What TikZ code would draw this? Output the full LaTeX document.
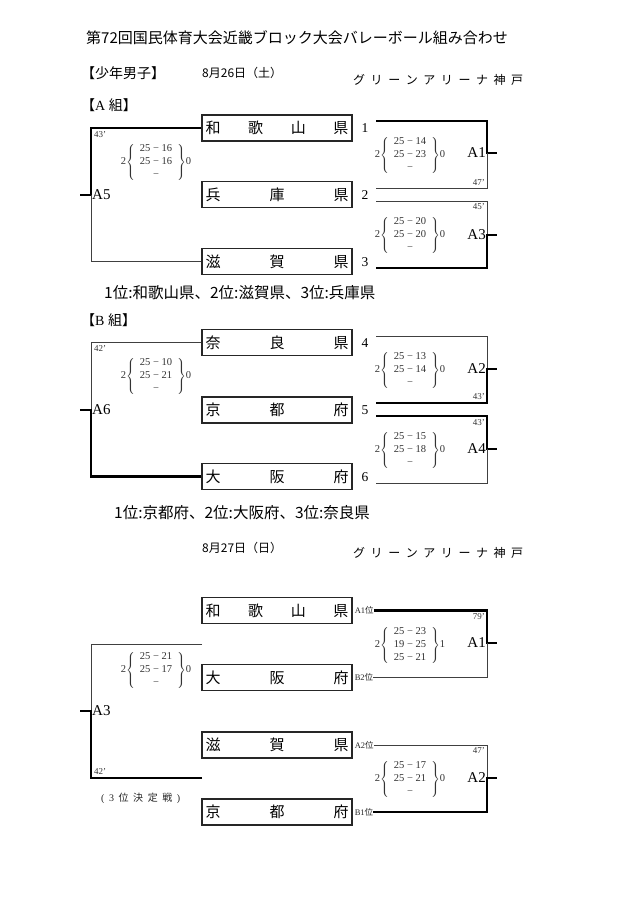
\documentclass[tikz,border=0pt]{standalone}
\usepackage{fontspec}
\setmainfont{Liberation Serif}
\newfontfamily\jp{Noto Sans CJK JP}
\newcommand\boxfour[4]{\makebox[143pt]{#1\hfill #2\hfill #3\hfill #4}}
\newcommand\boxthree[3]{\makebox[143pt]{#1\hfill #2\hfill #3}}
\newcommand\scoreblk[5]{#4$\left\{\begin{tabular}{@{\hspace{5pt}}c@{\hspace{5pt}}}#1\\#2\\#3\end{tabular}\right\}$#5}
\newcommand\arena{\makebox[170pt]{グ\hfill リ\hfill ー\hfill ン\hfill ア\hfill リ\hfill ー\hfill ナ\hfill 神\hfill 戸}}
\begin{document}
\begin{tikzpicture}[x=1pt,y=-1pt,
  tbox/.style={draw=black!85,line width=1.1pt,minimum width=150pt,minimum height=26pt,inner sep=0pt,font=\jp\fontsize{15}{15}\selectfont},
  thinln/.style={draw=black!75,line width=0.9pt},
  thickln/.style={draw=black,line width=2.6pt},
  lbl/.style={inner sep=0pt,font=\fontsize{15}{15}\selectfont},
  num/.style={inner sep=0pt,font=\fontsize{13.5}{13.5}\selectfont},
  mins/.style={inner sep=0pt,text=black!80,font=\fontsize{9}{9}\selectfont},
  score/.style={inner sep=0pt,text=black!80,font=\fontsize{10.5}{13}\selectfont},
  rank/.style={inner sep=0pt,anchor=west,text=black!85,font=\fontsize{8.5}{9}\selectfont},
  jt/.style={inner sep=0pt,anchor=west,font=\jp\fontsize{15}{15}\selectfont},
  res/.style={inner sep=0pt,anchor=west,font=\jp\fontsize{15.5}{15.5}\selectfont},
]
\useasboundingbox (0,0) rectangle (640,906);
\fill[white] (0,0) rectangle (640,906);

% headers
\node[jt] (title) at (86,38) {第72回国民体育大会近畿ブロック大会バレーボール組み合わせ};
\node[jt,font=\jp\fontsize{14}{14}\selectfont] (cat) at (81,73) {【少年男子】};
\node[jt,font=\jp\fontsize{12}{12}\selectfont] (date1) at (202,73) {8月26日（土）};
\node[jt,font=\jp\fontsize{12}{12}\selectfont] (venue1) at (353,80) {\arena};
\node[jt,font=\fontsize{14}{14}\selectfont] (grpA) at (81,105) {{\jp 【}A\ {\jp 組】}};

% ---------- A group ----------
\node[tbox] (wakA) at (277,128) {\boxfour{和}{歌}{山}{県}};
\node[tbox] (hyoA) at (277,194.5) {\boxthree{兵}{庫}{県}};
\node[tbox] (shiA) at (277,261.5) {\boxthree{滋}{賀}{県}};
\node[num] (n1) at (365,128) {1};
\node[num] (n2) at (365,195) {2};
\node[num] (n3) at (365,262) {3};

\coordinate (a5) at (91,195);
\draw[thickln] (wakA.west) -| (a5) -- ++(-11,0);
\draw[thinln] (a5) |- (shiA.west);
\node[lbl,anchor=west] (A5) at (92,195) {A5};
\node[mins,anchor=north west] (mA5) at (94,131) {43’};
\node[score] (sA5) at (156,162) {\scoreblk{25 − 16}{25 − 16}{−}{2}{0}};

\coordinate (r1t) at (376,121);
\coordinate (r1c) at (487,153);
\coordinate (r1b) at (376,188);
\draw[thickln] (r1t) -| (r1c) -- ++(10,0);
\draw[thinln] (r1c) |- (r1b);
\node[lbl,anchor=east] (A1) at (486,153) {A1};
\node[mins,anchor=south east] (mA1) at (485,186) {47’};
\node[score] (sA1) at (410,155) {\scoreblk{25 − 14}{25 − 23}{−}{2}{0}};

\coordinate (r3t) at (376,201);
\coordinate (r3c) at (487,235);
\coordinate (r3b) at (376,268);
\draw[thinln] (r3t) -| (r3c);
\draw[thickln] (r3b) -| (r3c) -- ++(10,0);
\node[lbl,anchor=east] (A3) at (486,235) {A3};
\node[mins,anchor=north east] (mA3) at (485,203) {45’};
\node[score] (sA3) at (410,235) {\scoreblk{25 − 20}{25 − 20}{−}{2}{0}};

\node[res] (resA) at (104,293) {1位:和歌山県、2位:滋賀県、3位:兵庫県};

% ---------- B group ----------
\node[jt,font=\fontsize{14}{14}\selectfont] (grpB) at (81,320) {{\jp 【}B\ {\jp 組】}};
\node[tbox] (narB) at (277,342.5) {\boxthree{奈}{良}{県}};
\node[tbox] (kyoB) at (277,410) {\boxthree{京}{都}{府}};
\node[tbox] (osaB) at (277,476.5) {\boxthree{大}{阪}{府}};
\node[num] (n4) at (365,343) {4};
\node[num] (n5) at (365,410) {5};
\node[num] (n6) at (365,477) {6};

\coordinate (a6) at (91,410);
\draw[thinln] (narB.west) -| (a6);
\draw[thickln] (osaB.west) -| (a6) -- ++(-11,0);
\node[lbl,anchor=west] (A6) at (92,410) {A6};
\node[mins,anchor=north west] (mA6) at (94,345) {42’};
\node[score] (sA6) at (156,376) {\scoreblk{25 − 10}{25 − 21}{−}{2}{0}};

\coordinate (r2t) at (376,336);
\coordinate (r2c) at (487,369);
\coordinate (r2b) at (376,403);
\draw[thinln] (r2t) -| (r2c);
\draw[thickln] (r2b) -| (r2c) -- ++(10,0);
\node[lbl,anchor=east] (A2) at (486,369) {A2};
\node[mins,anchor=south east] (mA2) at (485,400) {43’};
\node[score] (sA2) at (410,370) {\scoreblk{25 − 13}{25 − 14}{−}{2}{0}};

\coordinate (r4t) at (376,416);
\coordinate (r4c) at (487,449);
\coordinate (r4b) at (376,483);
\draw[thickln] (r4t) -| (r4c) -- ++(10,0);
\draw[thinln] (r4c) |- (r4b);
\node[lbl,anchor=east] (A4) at (486,449) {A4};
\node[mins,anchor=north east] (mA4) at (485,419) {43’};
\node[score] (sA4) at (410,450) {\scoreblk{25 − 15}{25 − 18}{−}{2}{0}};

\node[res] (resB) at (114,513) {1位:京都府、2位:大阪府、3位:奈良県};

% ---------- Final day ----------
\node[jt,font=\jp\fontsize{12}{12}\selectfont] (date2) at (202,548) {8月27日（日）};
\node[jt,font=\jp\fontsize{12}{12}\selectfont] (venue2) at (353,553) {\arena};

\node[tbox] (wakF) at (277,610.5) {\boxfour{和}{歌}{山}{県}};
\node[tbox] (osaF) at (277,677.5) {\boxthree{大}{阪}{府}};
\node[tbox] (shiF) at (277,745) {\boxthree{滋}{賀}{県}};
\node[tbox] (kyoF) at (277,812) {\boxthree{京}{都}{府}};

\node[rank] (pA1) at ([xshift=2pt]wakF.east) {A1{\jp 位}};
\node[rank] (pB2) at ([xshift=2pt]osaF.east) {B2{\jp 位}};
\node[rank] (pA2) at ([xshift=2pt]shiF.east) {A2{\jp 位}};
\node[rank] (pB1) at ([xshift=2pt]kyoF.east) {B1{\jp 位}};

\coordinate (f3t) at (202,644);
\coordinate (f3c) at (91,711);
\coordinate (f3b) at (202,778);
\draw[thinln] (f3t) -| (f3c);
\draw[thickln] (f3b) -| (f3c) -- ++(-11,0);
\node[lbl,anchor=west] (A3f) at (92,711) {A3};
\node[mins,anchor=south west] (mA3f) at (94,775) {42’};
\node[score] (sA3f) at (156,670) {\scoreblk{25 − 21}{25 − 17}{−}{2}{0}};
\node[inner sep=0pt,anchor=west,font=\fontsize{10}{10}\selectfont,text=black!85] (third) at (101,798) {\makebox[79pt]{(\hfill 3\hfill {\jp 位}\hfill {\jp 決}\hfill {\jp 定}\hfill {\jp 戦}\hfill )}};

\coordinate (f1c) at (487,643);
\draw[thickln] (pA1.east) -| (f1c) -- ++(10,0);
\draw[thinln] (f1c) |- (pB2.east);
\node[lbl,anchor=east] (A1f) at (486,643) {A1};
\node[mins,anchor=north east] (mA1f) at (485,613) {79’};
\node[score] (sA1f) at (410,645) {\scoreblk{25 − 23}{19 − 25}{25 − 21}{2}{1}};

\coordinate (f2c) at (487,778);
\draw[thinln] (pA2.east) -| (f2c);
\draw[thickln] (pB1.east) -| (f2c) -- ++(10,0);
\node[lbl,anchor=east] (A2f) at (486,778) {A2};
\node[mins,anchor=north east] (mA2f) at (485,747) {47’};
\node[score] (sA2f) at (410,779) {\scoreblk{25 − 17}{25 − 21}{−}{2}{0}};
\end{tikzpicture}
\end{document}
